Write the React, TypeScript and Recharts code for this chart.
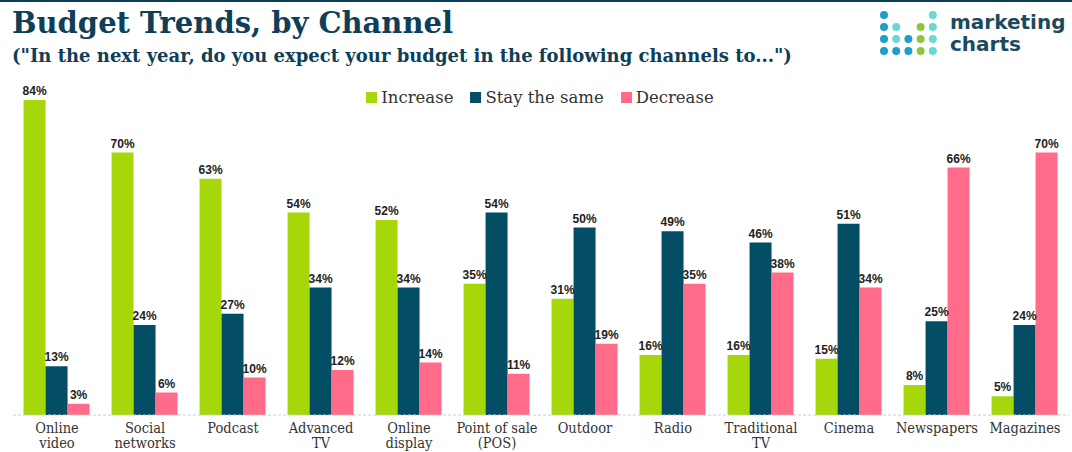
import { BarChart, Bar, XAxis, YAxis, CartesianGrid, LabelList } from 'recharts';

// values (% of respondents)
const channels = [
  'Online\nvideo',
  'Social\nnetworks',
  'Podcast',
  'Advanced\nTV',
  'Online\ndisplay',
  'Point of sale\n(POS)',
  'Outdoor',
  'Radio',
  'Traditional\nTV',
  'Cinema',
  'Newspapers',
  'Magazines',
];
const increase = [84, 70, 63, 54, 52, 35, 31, 16, 16, 15, 8, 5];
const staySame = [13, 24, 27, 34, 34, 54, 50, 49, 46, 51, 25, 24];
const decrease = [3, 6, 10, 12, 14, 11, 19, 35, 38, 34, 66, 70];

const data = channels.map((name, i) => ({
  name,
  increase: increase[i],
  same: staySame[i],
  decrease: decrease[i],
}));

const GREEN = '#a6d70b';
const TEAL = '#034e64';
const PINK = '#ff6b88';
const DARK = '#0d4058';
const SERIF_C = '"DejaVu Serif Condensed", "DejaVu Serif", serif';
const SERIF = '"DejaVu Serif", serif';

const ChannelTick = ({ x, y, payload }: any) => {
  const lines = String(payload.value).split('\n');
  return (
    <text x={x} y={y} textAnchor="middle" fill="#333" fontFamily={SERIF_C} fontSize={14.5}>
      {lines.map((l, i) => (
        <tspan key={i} x={x} dy={i === 0 ? 18 : 15}>
          {l}
        </tspan>
      ))}
    </text>
  );
};

const pct = (v: any) => `${v}%`;

const legendItems = [
  { label: 'Increase', color: GREEN },
  { label: 'Stay the same', color: TEAL },
  { label: 'Decrease', color: PINK },
];

// logo dot grid: [col, row, color]
const dots: [number, number, string][] = [
  [0, 0, '#1f9ec9'], [4, 0, '#6ad9d4'],
  [0, 1, '#1f9ec9'], [1, 1, '#6ad9d4'], [3, 1, '#8dc63f'], [4, 1, '#6ad9d4'],
  [0, 2, '#1f9ec9'], [1, 2, '#6ad9d4'], [2, 2, '#1f9ec9'], [3, 2, '#8dc63f'], [4, 2, '#6ad9d4'],
  [0, 3, '#1f9ec9'], [1, 3, '#1f9ec9'], [2, 3, '#1f9ec9'], [3, 3, '#8dc63f'], [4, 3, '#6ad9d4'],
];

const logoText = {
  position: 'absolute' as const,
  left: 950,
  fontFamily: '"DejaVu Sans", sans-serif',
  fontWeight: 'bold',
  fontSize: 20,
  lineHeight: '20px',
  color: '#1b4a5e',
};

const App = () => {
  return (
    <div style={{ position: 'absolute', left: 0, top: 0, width: 1072, height: 452, background: '#fff', overflow: 'hidden' }}>
      <div style={{ position: 'absolute', left: 0, top: 0, width: 1072, height: 2, background: DARK }} />
      <div
        style={{
          position: 'absolute', left: 12, top: 6,
          fontFamily: SERIF, fontWeight: 'bold', fontSize: 29, color: DARK, whiteSpace: 'nowrap',
        }}
      >
        Budget Trends, by Channel
      </div>
      <div
        style={{
          position: 'absolute', left: 12, top: 45,
          fontFamily: SERIF, fontWeight: 'bold', fontSize: 18, color: DARK, whiteSpace: 'nowrap',
        }}
      >
        ("In the next year, do you expect your budget in the following channels to...")
      </div>

      <svg style={{ position: 'absolute', left: 876, top: 8 }} width={70} height={52}>
        {dots.map(([c, r, col], i) => (
          <circle key={i} cx={8 + c * 12.2} cy={7 + r * 12} r={4} fill={col} />
        ))}
      </svg>
      <div style={{ ...logoText, top: 12 }}>marketing</div>
      <div style={{ ...logoText, top: 34 }}>charts</div>

      <div
        style={{
          position: 'absolute', left: 0, top: 88, width: 1072, display: 'flex', justifyContent: 'center',
          gap: 17, fontFamily: SERIF, fontSize: 16.5, color: '#333', paddingLeft: 4,
        }}
      >
        {legendItems.map((it) => (
          <div key={it.label} style={{ display: 'flex', alignItems: 'center' }}>
            <span style={{ width: 11, height: 11, background: it.color, display: 'inline-block', marginRight: 4 }} />
            {it.label}
          </div>
        ))}
      </div>

      <div style={{ position: 'absolute', left: 0, top: 0 }}>
        <BarChart
          width={1072}
          height={452}
          data={data}
          margin={{ top: 77.5, right: 3, left: 13, bottom: 0 }}
          barCategoryGap="12%"
          barGap={0}
        >
          <CartesianGrid horizontal={false} vertical={false} />
          <XAxis
            dataKey="name"
            height={37}
            interval={0}
            tickSize={0}
            tickMargin={0}
            tick={<ChannelTick />}
            axisLine={{ stroke: '#ccc', strokeDasharray: '3 2' }}
          />
          <YAxis hide domain={[0, 90]} />
          {[
            { key: 'increase', color: GREEN },
            { key: 'same', color: TEAL },
            { key: 'decrease', color: PINK },
          ].map((s) => (
            <Bar key={s.key} dataKey={s.key} fill={s.color} isAnimationActive={false}>
              <LabelList
                dataKey={s.key}
                position="top"
                offset={5}
                formatter={pct}
                style={{ fontFamily: '"Liberation Sans", Arial, sans-serif', fontWeight: 'bold', fontSize: 12, fill: '#222' }}
              />
            </Bar>
          ))}
        </BarChart>
      </div>
    </div>
  );
};

export default App;
